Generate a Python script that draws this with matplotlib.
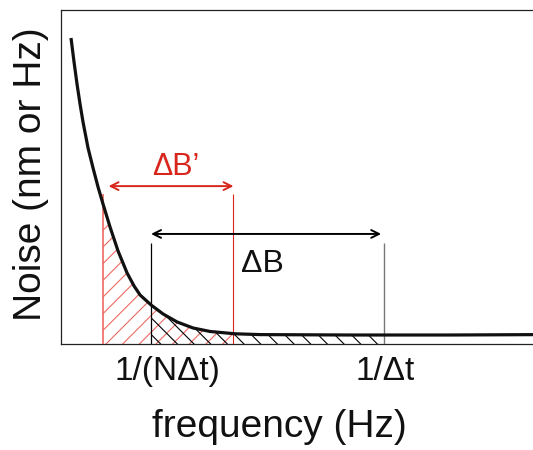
import matplotlib
matplotlib.use("Agg")
import matplotlib.pyplot as plt
from matplotlib.patches import Rectangle

plt.rcParams["font.family"] = ["Liberation Sans", "DejaVu Sans"]
plt.rcParams["hatch.linewidth"] = 0.8

# noise curve (arbitrary units)
freq = [0.219, 0.282, 0.344, 0.407, 0.469, 0.574, 0.678, 0.782, 0.886, 1.032,
        1.199, 1.387, 1.533, 1.658, 1.887, 2.138, 2.430, 2.763, 3.118, 3.639,
        4.160, 6.037, 8.123, 10.0]
noise = [9.148, 8.430, 7.773, 7.175, 6.637, 5.859, 5.262, 4.694, 4.185, 3.498,
         2.780, 2.123, 1.734, 1.465, 1.166, 0.897, 0.658, 0.478, 0.374, 0.305,
         0.281, 0.269, 0.269, 0.281]

# bands: delta B' (red) and delta B (black)
band_red = [0.886, 3.604]
band_black = [1.887, 6.738]
tick_labels = ["1/(N\u0394t)", "1/\u0394t"]

red = "#d9261c"
red_light = "#ee6a62"

fig = plt.figure(figsize=(5.33, 4.5), dpi=100)
ax = fig.add_axes([60.5 / 533, 106 / 450, 480 / 533, 334.5 / 450])
ax.set_xlim(0, 10)
ax.set_ylim(0, 10)

# hatched areas under the curve, clipped to each band
red_fill = ax.fill_between(freq, noise, 0, facecolor="none", edgecolor=red_light,
                           hatch="//", linewidth=0, zorder=1)
red_fill.set_clip_path(Rectangle((band_red[0], 0), band_red[1] - band_red[0], 10,
                                 transform=ax.transData))
blk_fill = ax.fill_between(freq, noise, 0, facecolor="none", edgecolor="black",
                           hatch="\\\\", linewidth=0, zorder=2)
blk_fill.set_clip_path(Rectangle((band_black[0], 0), band_black[1] - band_black[0], 10,
                                 transform=ax.transData))

ax.plot(freq, noise, color="#111111", lw=2.3, zorder=5, solid_capstyle="butt")

# band edges
ax.vlines(band_red[0], 0, 4.48, color=red_light, lw=1.2, zorder=3)
ax.vlines(band_red[1], 0, 4.48, color=red, lw=0.8, zorder=3)
ax.vlines(band_black[0], 0, 3.02, color="black", lw=0.9, zorder=3)
ax.vlines(band_black[1], 0, 3.02, color="#777777", lw=1.0, zorder=3)

# arrows
ax.annotate("", xy=(band_red[1], 4.72), xytext=(band_red[0], 4.72),
            arrowprops=dict(arrowstyle="<->", color=red, lw=1.4, shrinkA=4, shrinkB=0,
                            mutation_scale=14))
ax.annotate("", xy=(band_black[1], 3.29), xytext=(band_black[0], 3.29),
            arrowprops=dict(arrowstyle="<->", color="black", lw=1.4, shrinkA=0, shrinkB=2,
                            mutation_scale=14))
ax.text(2.41, 5.05, "\u0394B\u2019", color=red, fontsize=22, ha="center", va="baseline")
ax.text(4.20, 2.15, "\u0394B", color="#111111", fontsize=23, ha="center", va="baseline")

# tick labels under the band edges
ax.set_xticks([])
ax.set_yticks([])
ax.annotate(tick_labels[0], xy=(band_black[0], 0), xycoords=("data", "axes fraction"),
            xytext=(16.5 * 0.72, -36 * 0.72), textcoords="offset points",
            fontsize=24, ha="center", va="baseline", color="#111111")
ax.annotate(tick_labels[1], xy=(band_black[1], 0), xycoords=("data", "axes fraction"),
            xytext=(1.5 * 0.72, -36 * 0.72), textcoords="offset points",
            fontsize=24, ha="center", va="baseline", color="#111111")

for s in ["left", "bottom", "top"]:
    ax.spines[s].set_color("#222222")
    ax.spines[s].set_linewidth(0.9)
ax.spines["right"].set_visible(False)

fig.text(279 / 533, 13 / 450, "frequency (Hz)", fontsize=28, ha="center", va="baseline",
         color="#111111")
fig.text(41 / 533, 275.5 / 450, "Noise (nm or Hz)", fontsize=28, rotation=90,
         rotation_mode="anchor", ha="center", va="baseline", color="#111111")

fig.savefig("out.png", dpi=100)
